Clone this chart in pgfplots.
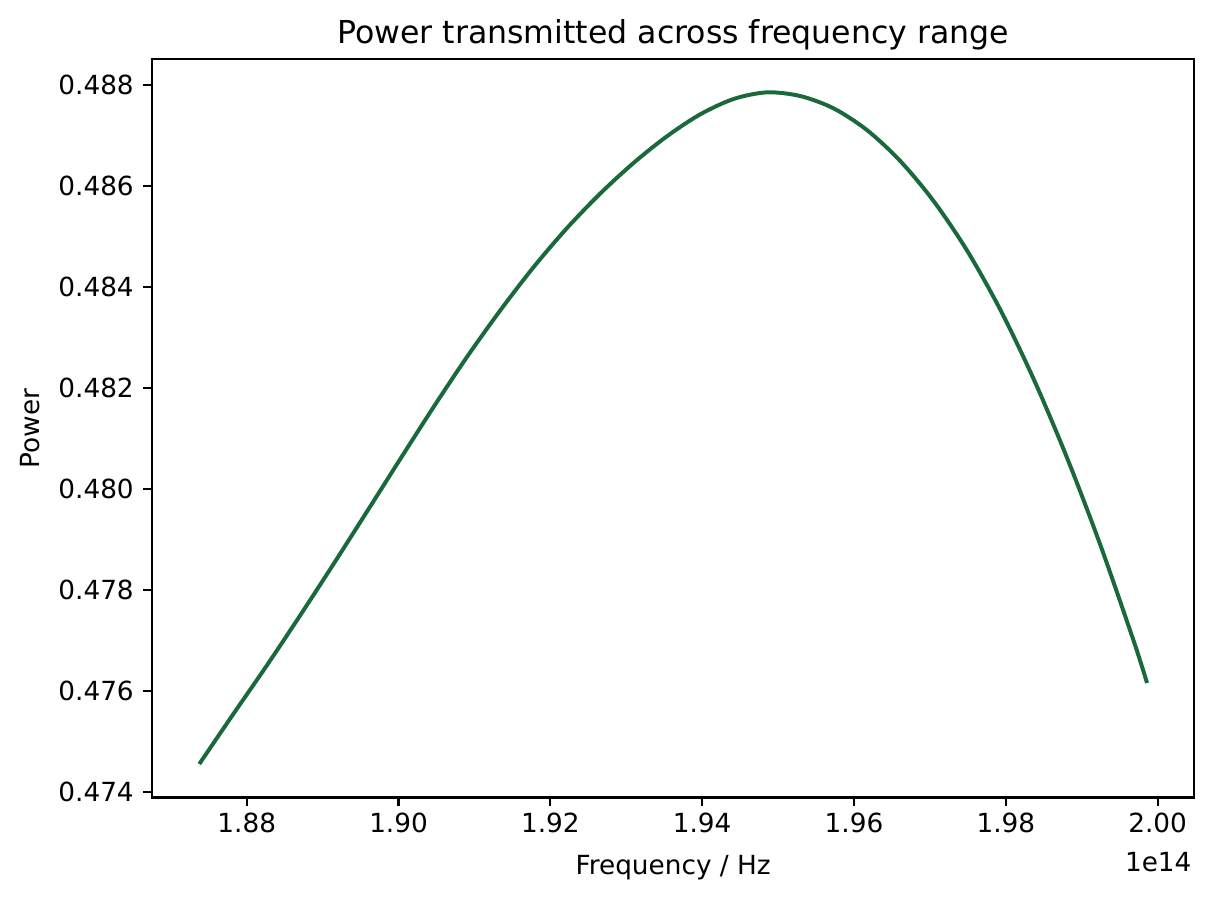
\documentclass[border=0pt]{standalone}
\usepackage{fontspec}
\setmainfont{DejaVu Sans}
\usepackage{pgfplots}
\pgfplotsset{compat=1.18}
\definecolor{curvegreen}{RGB}{25,105,58}

\begin{document}
\begin{tikzpicture}
% whole figure, 1 px = 0.38pt, origin at lower left corner of the axis box
\path[use as bounding box] (-57.76pt,-38.95pt) rectangle (403.18pt,303.05pt);
\begin{axis}[
  at={(0pt,0pt)}, anchor=south west,
  scale only axis,
  width=396.1pt, height=280.5pt,
  xmin=1.86752, xmax=2.00484,
  ymin=0.473885, ymax=0.488509,
  xtick={1.88,1.90,1.92,1.94,1.96,1.98,2.00},
  ytick={0.474,0.476,0.478,0.480,0.482,0.484,0.486,0.488},
  xticklabel style={yshift=1pt, /pgf/number format/.cd, fixed, fixed zerofill, precision=2},
  yticklabel style={/pgf/number format/.cd, fixed, fixed zerofill, precision=3},
  /pgf/number format/assume math mode=true,
  tick pos=left,
  tick align=outside,
  major tick length=3.4pt,
  every tick/.style={black, line width=0.8pt},
  axis line style={line width=0.8pt},
  tick label style={font=\fontsize{10}{12}\selectfont},
  title={Power transmitted across frequency range},
  title style={font=\fontsize{12}{14}\selectfont, at={(0.5,1)}, anchor=base},
  xlabel={Frequency / Hz},
  xlabel style={font=\fontsize{10}{12}\selectfont, at={(0.5,0)}, anchor=base, yshift=-29.1pt},
  ylabel={Power},
  ylabel style={font=\fontsize{10}{12}\selectfont},
  clip=false,
]
\addplot[color=curvegreen, line width=1.5pt, smooth, tension=0.5] coordinates {
  (1.873753,0.474549)
  (1.878234,0.475539)
  (1.882636,0.476498)
  (1.887024,0.477489)
  (1.891413,0.478505)
  (1.895814,0.479543)
  (1.900203,0.480585)
  (1.904591,0.481615)
  (1.908993,0.482608)
  (1.913382,0.483531)
  (1.917770,0.484389)
  (1.922172,0.485163)
  (1.926560,0.485849)
  (1.930949,0.486455)
  (1.935351,0.486984)
  (1.939739,0.487419)
  (1.944128,0.487723)
  (1.948529,0.487855)
  (1.952918,0.487782)
  (1.957306,0.487538)
  (1.961708,0.487108)
  (1.966097,0.486494)
  (1.970485,0.485702)
  (1.974887,0.484723)
  (1.979275,0.483549)
  (1.983664,0.482176)
  (1.988065,0.480615)
  (1.992454,0.478887)
  (1.996842,0.476987)
  (1.998608,0.476153)
};
\node[font=\fontsize{10}{12}\selectfont, anchor=base east, inner sep=0pt]
  at ([xshift=-0.9pt, yshift=-28.2pt]rel axis cs:1,0) {1e14};
\end{axis}
\end{tikzpicture}
\end{document}
